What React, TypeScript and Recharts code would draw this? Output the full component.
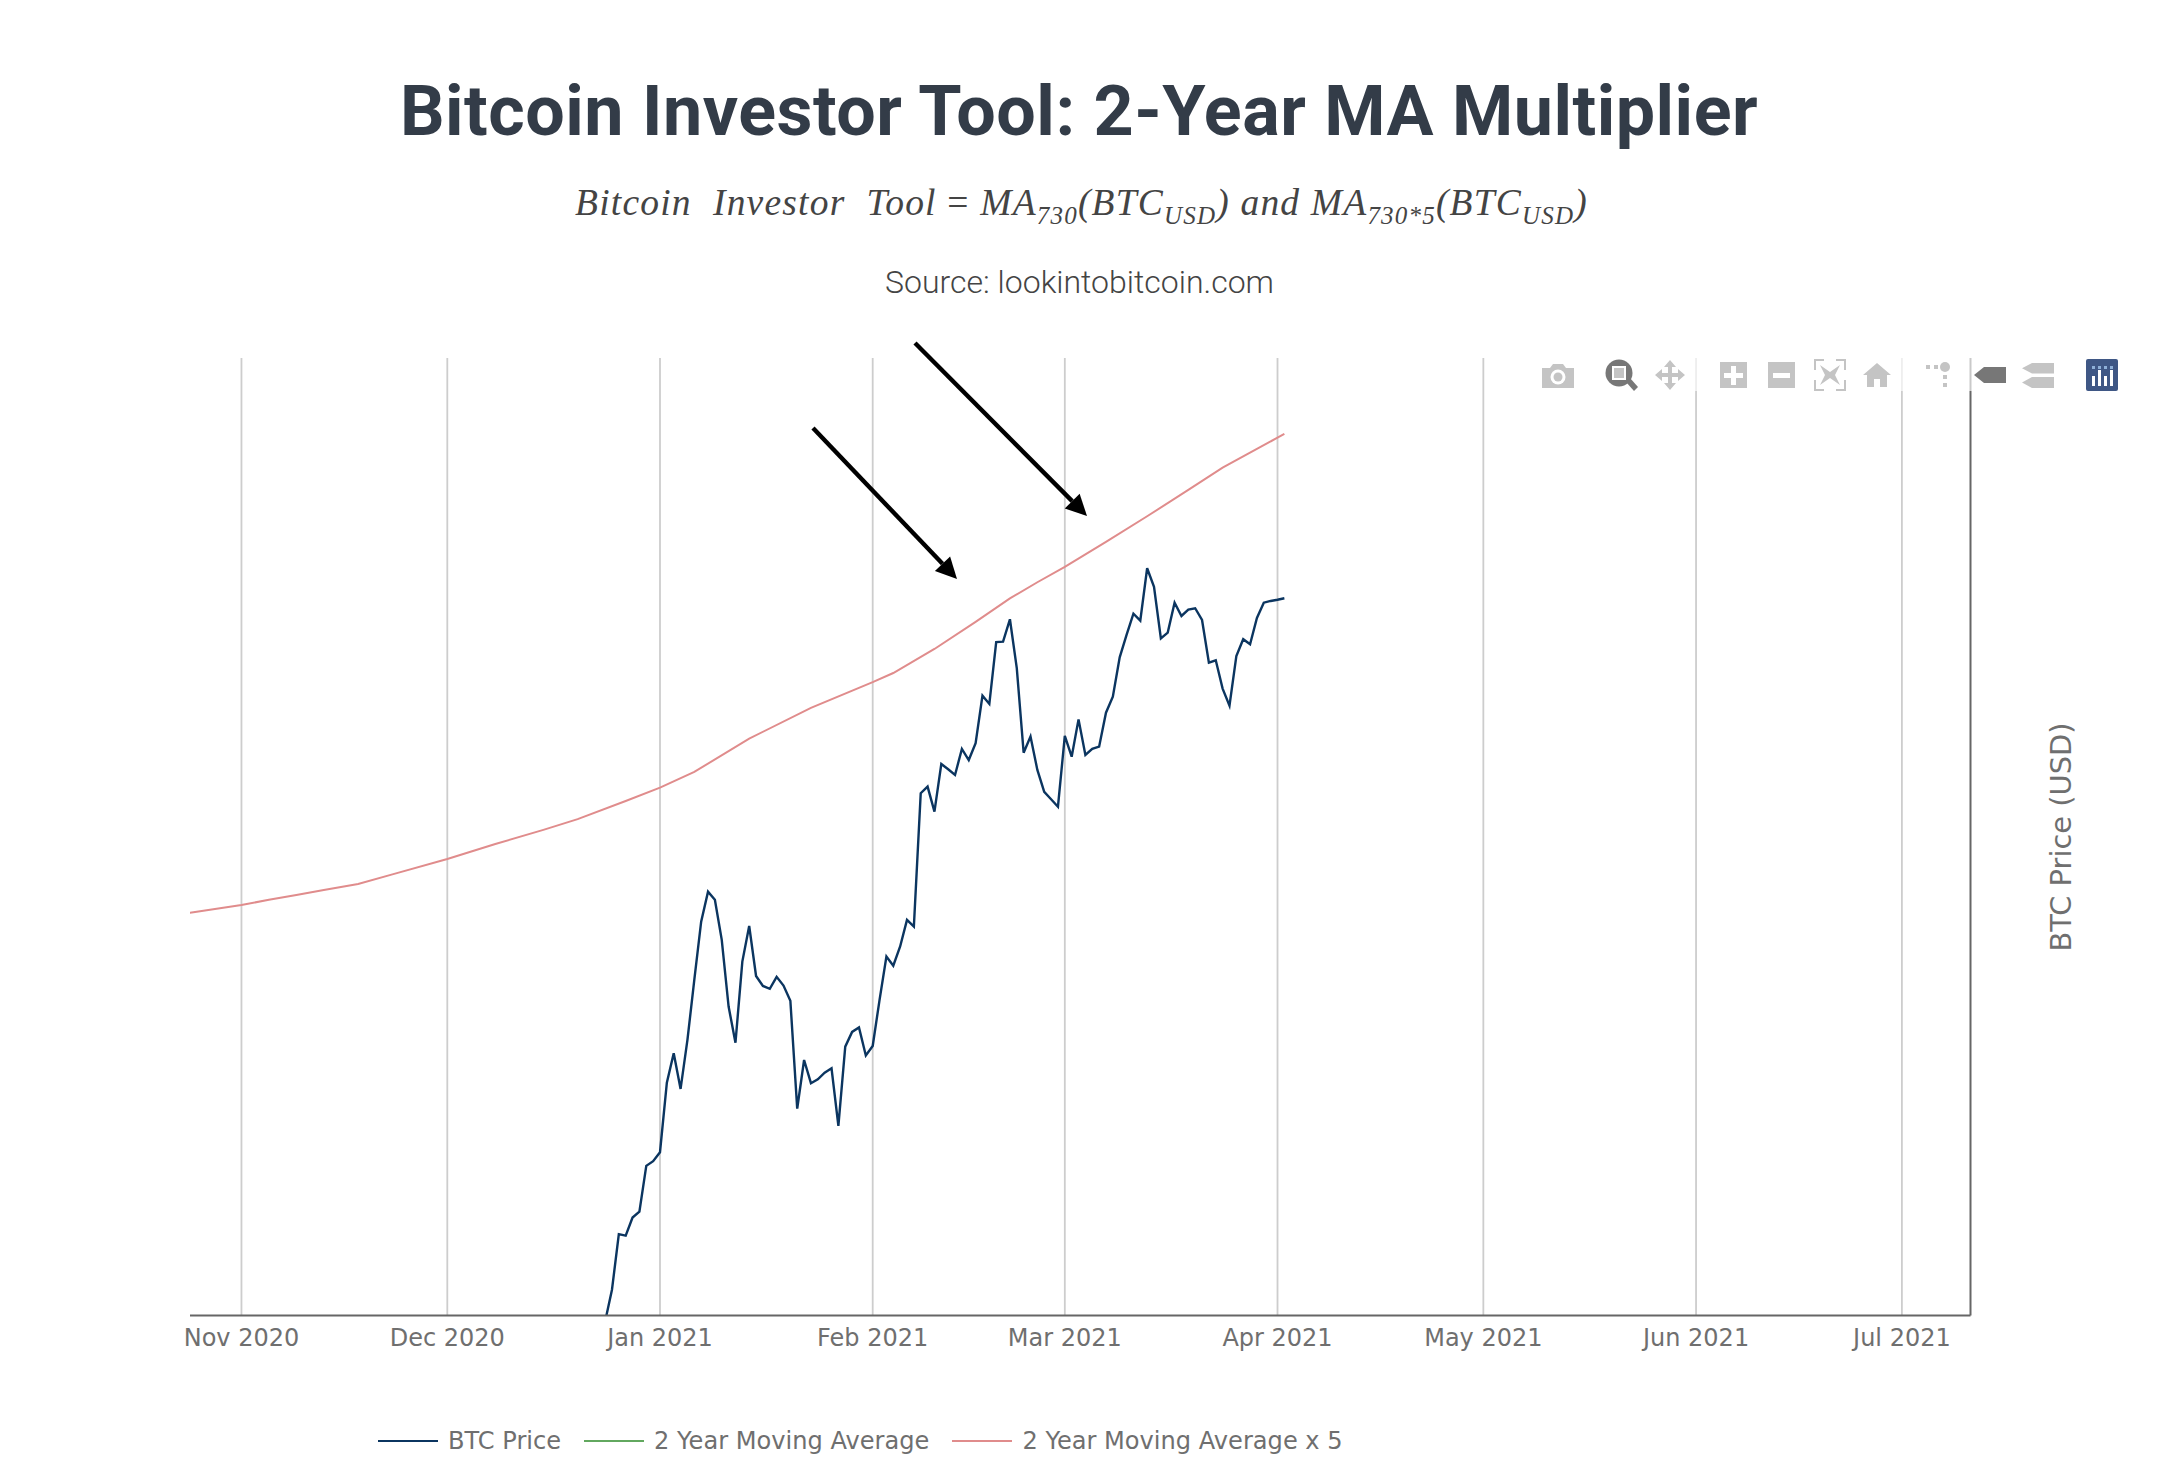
import { LineChart, Line, XAxis, YAxis, CartesianGrid, Legend } from "recharts";

// days are counted from 1 Nov 2020
const tickDays = [0, 30, 61, 92, 120, 151, 181, 212, 242];
const tickLabels = ["Nov 2020", "Dec 2020", "Jan 2021", "Feb 2021", "Mar 2021", "Apr 2021", "May 2021", "Jun 2021", "Jul 2021"];

// daily closes, 24 Dec 2020 (day 53) to 2 Apr 2021
const btcFirstDay = 53;
const btcPrices = [
  23520, 24490, 26280, 26230, 26840, 27040, 28660, 28830,
  29160, 31850, 33060, 31600, 33630, 36290, 39070, 40590, 40170, 38180, 35080, 33510, 37140, 38860, 36470, 36010, 35880, 36430, 36030, 35340, 30820, 32780, 31830, 31990, 32260, 32440, 30150, 33340, 33970, 34160, 32970,
  33370, 35380, 37380, 36950, 37860, 39160, 38830, 45990, 46380, 44930, 47730, 47410, 47070, 48650, 47970, 49000, 52050, 51510, 55710, 55750, 57350, 53900, 48420, 49420, 47370, 46070, 45640, 45210,
  49460, 48170, 50510, 48280, 48650, 48790, 50940, 51990, 54650, 56220, 57760, 57250, 61190, 59770, 55980, 56390, 58570, 57590, 58060, 58160, 57300, 54280, 54440, 52520, 51400, 54740, 55920, 55560, 57450, 58570, 58700,
  58790, 58900,
];

const maDays = [-8, -7, 0, 4, 8, 12, 17, 22, 30, 37, 44, 49, 56, 61, 66, 74, 83, 92, 95, 101, 107, 112, 116, 120, 126, 132, 138, 143, 151, 152];
const maX5Prices = [
  39490, 39540, 39910, 40170, 40420, 40680, 40990, 41490, 42310, 43120, 43900, 44500, 45540, 46320, 47250,
  49290, 51250, 52950, 53570, 55230, 57160, 58890, 60110, 61290, 63270, 65360, 67580, 69520, 72220, 72560,
];

const btcData = btcPrices.map((price, i) => ({ day: btcFirstDay + i, price }));
const maX5Data = maDays.map((day, i) => ({ day, price: maX5Prices[i] }));

const axisFont = "'DejaVu Sans', sans-serif";
const axisGrey = "#6f6f6f";
const iconGrey = "#c4c4c4";
const iconDark = "#777777";

function ChartLegend({ payload }: any) {
  return (
    <div style={{ display: "flex", alignItems: "center", fontFamily: axisFont, fontSize: 24.1, color: axisGrey, whiteSpace: "nowrap" }}>
      {(payload || []).map((item: any) => (
        <div key={item.value} style={{ display: "flex", alignItems: "center", marginRight: 23 }}>
          <span style={{ display: "inline-block", width: 60, height: 2, background: item.color, marginRight: 10 }} />
          <span>{item.value}</span>
        </div>
      ))}
    </div>
  );
}

function AxisTitle() {
  return (
    <text x={2061} y={837} textAnchor="middle" dominantBaseline="central" transform="rotate(-90 2061 837)" fill={axisGrey} fontSize={28.9} fontFamily={axisFont}>
      BTC Price (USD)
    </text>
  );
}

function Arrow({ x1, y1, x2, y2 }: { x1: number; y1: number; x2: number; y2: number }) {
  const a = Math.atan2(y2 - y1, x2 - x1);
  const ux = Math.cos(a);
  const uy = Math.sin(a);
  const bx = x2 - ux * 21;
  const by = y2 - uy * 21;
  return (
    <g>
      <line x1={x1} y1={y1} x2={bx} y2={by} stroke="#000" strokeWidth={4.4} />
      <polygon points={`${x2},${y2} ${bx - uy * 10.5},${by + ux * 10.5} ${bx + uy * 10.5},${by - ux * 10.5}`} fill="#000" />
    </g>
  );
}

function Annotations() {
  return (
    <svg width={2160} height={1469} style={{ position: "absolute", left: 0, top: 0, pointerEvents: "none" }}>
      <Arrow x1={813} y1={428} x2={957} y2={579} />
      <Arrow x1={915} y1={343} x2={1087} y2={516} />
      {/* modebar */}
      <rect x={1535} y={356} width={445} height={35} fill="#fff" fillOpacity={0.65} />
      <g fill={iconGrey}>
        <path d="M1542 368h8l3-4h10l3 4h8v20h-32z" />
        <circle cx={1558} cy={377} r={7.5} fill="#fff" />
        <circle cx={1558} cy={377} r={4.5} />
        <path d="M1670 360l6 7h-4v6h6v-4l7 6-7 6v-4h-6v6h4l-6 7-6-7h4v-6h-6v4l-7-6 7-6v4h6v-6h-4z" />
        <path d="M1720 362h27v26h-27z" />
        <path d="M1768 362h27v26h-27z" />
        <path d="M1814 370v-11h10v2h-8v9zM1836 359h10v11h-2v-9h-8zM1814 380h2v9h8v2h-10zM1846 380v11h-10v-2h8v-9z" />
        <path d="M1820 365l10 7 10-7-5 10 5 10-10-7-10 7 5-10z" />
        <path d="M1877 363l14 12h-4v12h-7v-8h-6v8h-7v-12h-4z" />
        <circle cx={1945} cy={367} r={5} />
        <path d="M1926 365h4v4h-4zM1934 365h4v4h-4zM1943 375h4v4h-4zM1943 383h4v4h-4z" />
        <path d="M2032 363h22v10.500h-22l-10-5.250zM2032 377h22v11h-22l-10-5.500z" />
      </g>
      <path d="M1724 373h7v-7h5v7h7v5h-7v7h-5v-7h-7zM1773 373h17v5h-17z" fill="#fff" />
      <g fill={iconDark}>
        <circle cx={1619} cy={373} r={13.500} />
        <path d="M1626 382l4-4 8 9-4 4z" />
        <path d="M1984 367h22v16h-22l-10-8z" />
      </g>
      <rect x={1613} y={367} width={12} height={12} fill={iconGrey} stroke="#fff" strokeWidth={2} />
      <rect x={2086} y={359} width={32} height={32} rx={2} fill="#3f5785" />
      <g fill="#fff">
        <path d="M2092 376h3v10h-3zM2098 370h3v16h-3zM2104 376h3v10h-3zM2110 370h3v16h-3z" />
      </g>
      <g fill="#8fb0d8">
        <path d="M2092 366h3v3h-3zM2098 366h3v3h-3zM2104 366h3v3h-3zM2110 366h3v3h-3z" />
      </g>
    </svg>
  );
}

export default function App() {
  return (
    <div style={{ position: "absolute", left: 0, top: 0, width: 2160, height: 1469, background: "#fff" }}>
      <div style={{ position: "absolute", left: 0, width: 2158, top: 66, textAlign: "center", fontFamily: "Roboto, sans-serif", fontWeight: 700, fontSize: 70, letterSpacing: 0.5, lineHeight: "90px", color: "#333c48" }}>
        Bitcoin Investor Tool: 2-Year MA Multiplier
      </div>
      <div style={{ position: "absolute", left: 0, width: 2163, top: 178, textAlign: "center", fontFamily: "'Liberation Serif', serif", fontStyle: "italic", fontSize: 37.5, letterSpacing: 1.2, lineHeight: "50px", color: "#444", whiteSpace: "nowrap" }}>
        Bitcoin&nbsp; Investor&nbsp; Tool <span style={{ fontStyle: "normal" }}>=</span> MA<sub style={{ fontSize: 25 }}>730</sub>(BTC<sub style={{ fontSize: 25 }}>USD</sub>) and MA<sub style={{ fontSize: 25 }}>730*5</sub>(BTC<sub style={{ fontSize: 25 }}>USD</sub>)
      </div>
      <div style={{ position: "absolute", left: 0, width: 2159, top: 261, textAlign: "center", fontFamily: "Roboto, sans-serif", fontWeight: 300, fontSize: 32, lineHeight: "42px", color: "#444" }}>
        Source: lookintobitcoin.com
      </div>

      <LineChart width={2160} height={1469} margin={{ top: 358, right: 188.5, bottom: 85.4, left: 190 }} style={{ position: "absolute", left: 0, top: 0 }}>
        <CartesianGrid horizontal={false} syncWithTicks stroke="#cdcdcd" strokeWidth={1.8} />
        <XAxis
          type="number"
          dataKey="day"
          domain={[-7.5, 252]}
          allowDataOverflow
          ticks={tickDays}
          interval={0}
          height={40}
          tickLine={false}
          tickMargin={7}
          tickFormatter={(d: number) => tickLabels[tickDays.indexOf(d)]}
          tick={{ fill: axisGrey, fontSize: 24, fontFamily: axisFont }}
          axisLine={{ stroke: "#666", strokeWidth: 2 }}
        />
        <YAxis
          orientation="right"
          scale="log"
          domain={[23700, 79900]}
          allowDataOverflow
          width={1}
          tick={false}
          tickLine={false}
          axisLine={{ stroke: "#666", strokeWidth: 2 }}
          label={{ value: "BTC Price (USD)", content: () => <AxisTitle /> }}
        />
        <Legend
          content={<ChartLegend />}
          itemSorter={null}
          wrapperStyle={{ position: "absolute", left: 378, top: 1427, width: "auto", bottom: "auto" }}
        />
        <Line data={btcData} dataKey="price" name="BTC Price" stroke="#0b3560" strokeWidth={2.4} dot={false} isAnimationActive={false} legendType="plainline" />
        <Line data={[]} dataKey="ma" name="2 Year Moving Average" stroke="#62a85f" strokeWidth={1.8} dot={false} isAnimationActive={false} legendType="plainline" />
        <Line data={maX5Data} dataKey="price" name="2 Year Moving Average x 5" stroke="#e08c8c" strokeWidth={2} dot={false} isAnimationActive={false} legendType="plainline" />
      </LineChart>

      <Annotations />
    </div>
  );
}
